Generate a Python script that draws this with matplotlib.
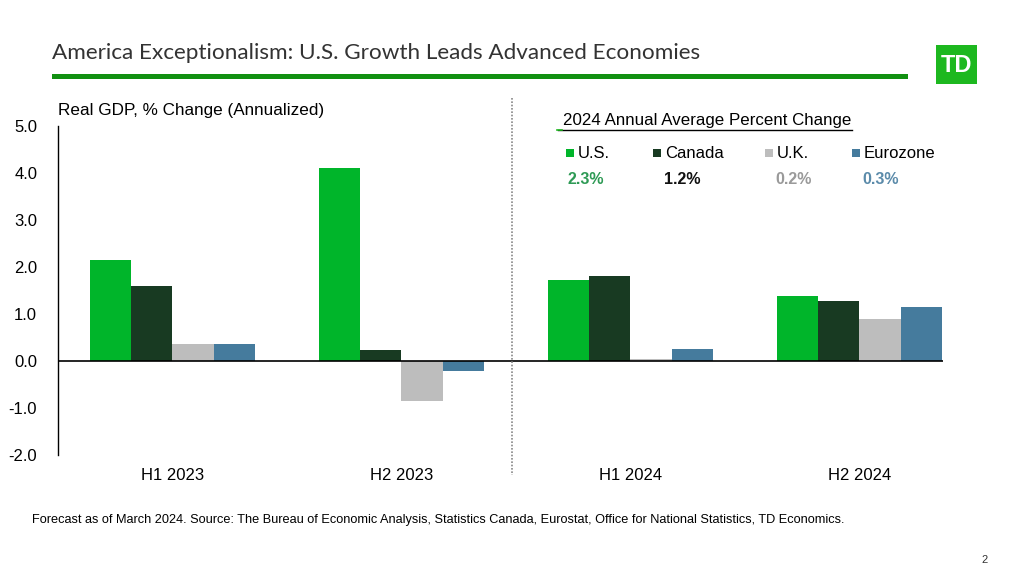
import matplotlib
matplotlib.use("Agg")
import matplotlib.pyplot as plt
from matplotlib.patches import Rectangle
from matplotlib.lines import Line2D
import numpy as np

plt.rcParams['font.family'] = ['Liberation Sans', 'DejaVu Sans']

categories = ["H1 2023", "H2 2023", "H1 2024", "H2 2024"]
series_names = ["U.S.", "Canada", "U.K.", "Eurozone"]
us = [2.15, 4.1, 1.72, 1.38]
canada = [1.6, 0.23, 1.81, 1.28]
uk = [0.36, -0.85, 0.04, 0.89]
eurozone = [0.36, -0.21, 0.26, 1.15]
annual_2024 = ["2.3%", "1.2%", "0.2%", "0.3%"]
yticks = [5.0, 4.0, 3.0, 2.0, 1.0, 0.0, -1.0, -2.0]

colors = ["#00B52A", "#183A22", "#BDBDBD", "#457B9D"]
value_colors = ["#2E9A55", "#111111", "#9A9A9A", "#5B8BAA"]

W, H = 1024, 576
fig = plt.figure(figsize=(W/100, H/100), dpi=100)

def fx(px): return px / W
def fy(py): return 1 - py / H

# Title
fig.text(fx(52), fy(53), "America Exceptionalism: U.S. Growth Leads Advanced Economies",
         fontsize=16.2, color="#333333", family=["Lato", "DejaVu Sans"], va="center", ha="left")
fig.add_artist(Rectangle((fx(52), fy(79)), fx(908-52), 5/H, transform=fig.transFigure,
                         color="#119011", lw=0))
# TD logo
fig.add_artist(Rectangle((fx(936), fy(84)), fx(41), 39/H, transform=fig.transFigure,
                         color="#1DB81F", lw=0))
fig.text(fx(956.5), fy(65), "TD", fontsize=17, color="white", fontweight="bold",
         ha="center", va="center", family=["Liberation Sans Narrow", "Liberation Sans"])

# Axes
ax = fig.add_axes([fx(58), fy(455), fx(943-58), (455-126)/H])
x = np.arange(len(categories))
bw = 0.181
data = [us, canada, uk, eurozone]
for i, (vals, c) in enumerate(zip(data, colors)):
    ax.bar(x + (i - 1.5) * bw, vals, width=bw, color=c, lw=0)
ax.set_ylim(-2, 5)
ax.set_xlim(-0.5, 3.365)
ax.set_yticks(yticks)
ax.set_yticklabels([f"{v:.1f}" for v in yticks], fontsize=12)
ax.set_xticks(x)
ax.set_xticklabels(categories, fontsize=12)
ax.tick_params(axis="y", length=0, pad=15)
ax.tick_params(axis="x", length=0, pad=9)
for s in ["top", "right", "bottom"]:
    ax.spines[s].set_visible(False)
ax.spines["left"].set_color("black")
ax.spines["left"].set_linewidth(1.0)
ax.axhline(0, color="black", lw=1.2)
ax.patch.set_alpha(0)

fig.text(fx(58), fy(110), "Real GDP, % Change (Annualized)", fontsize=12.3, va="center", ha="left")

# Dotted divider
fig.add_artist(Line2D([fx(512), fx(512)], [fy(98), fy(475)], transform=fig.transFigure,
                      color="#888888", lw=1.2, ls=(0, (1, 1))))

# Legend box
fig.text(fx(563), fy(121), "2024 Annual Average Percent Change", fontsize=12.2, va="center", ha="left")
fig.add_artist(Line2D([fx(558), fx(852)], [fy(130), fy(130)], transform=fig.transFigure,
                      color="black", lw=1))
fig.add_artist(Line2D([fx(557), fx(562)], [fy(130), fy(130)], transform=fig.transFigure,
                      color="#1DB81F", lw=1.2))
sq_x = [566, 653, 765, 852]
val_x = [567, 664, 775, 862]
for name, c, vc, sx, vx, v in zip(series_names, colors, value_colors, sq_x, val_x, annual_2024):
    fig.add_artist(Rectangle((fx(sx), fy(157)), 8/W, 8/H, transform=fig.transFigure, color=c, lw=0))
    fig.text(fx(sx + 12), fy(153), name, fontsize=12, va="center", ha="left")
    fig.text(fx(vx), fy(180), v, fontsize=11.5, fontweight="bold", color=vc, va="center", ha="left")

# Footnote
fig.text(fx(32), fy(520), "Forecast as of March 2024. Source: The Bureau of Economic Analysis, Statistics Canada, "
         "Eurostat, Office for National Statistics, TD Economics.", fontsize=9.2, va="center", ha="left")
fig.text(fx(988), fy(560), "2", fontsize=8, va="center", ha="right", color="#333333")

fig.savefig("out.png", dpi=100)
